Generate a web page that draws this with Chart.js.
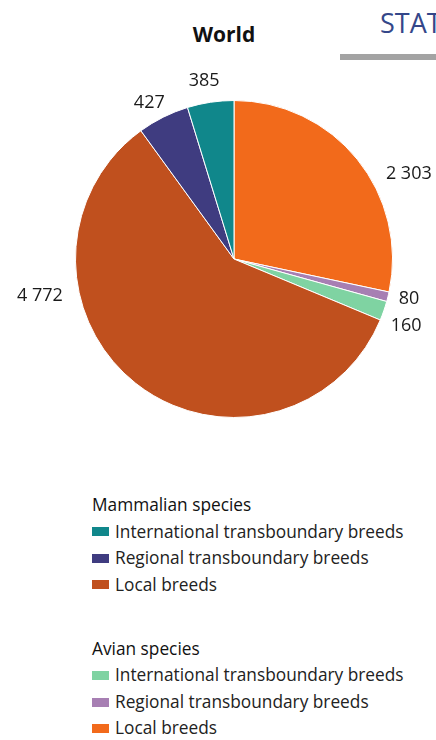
<!DOCTYPE html>
<html>
<head>
<meta charset="utf-8">
<script src="https://cdn.jsdelivr.net/npm/chart.js@4"></script>
<style>
  html, body { margin: 0; padding: 0; background: #fff; }
  body { width: 436px; height: 740px; position: relative; overflow: hidden; font-family: "Open Sans", sans-serif; }
  #header-word { position: absolute; left: 380px; top: 4px; font-size: 27px; color: #34478a; white-space: nowrap; }
  #header-rule { position: absolute; left: 340px; top: 54px; width: 96px; height: 6px; background: #a3a3a3; }
  #title { position: absolute; left: 0; width: 448px; top: 20px; text-align: center; font-weight: bold; font-size: 21px; color: #111; }
  #chart-box { position: absolute; left: 0; top: 0; width: 436px; height: 440px; }
  #legend { position: absolute; left: 92px; top: 492px; font-size: 17.3px; color: #222; }
  .leg-head { height: 26.5px; line-height: 26.5px; color: #111; white-space: nowrap; }
  .leg-row { height: 26.5px; line-height: 26.5px; display: flex; align-items: center; white-space: nowrap; }
  .leg-box { width: 17px; height: 9px; margin-right: 6px; flex: none; }
  .leg-gap { height: 37.75px; }
</style>
</head>
<body>
<div id="header-word">STAT</div>
<div id="header-rule"></div>
<div id="title">World</div>
<div id="chart-box"><canvas id="pieChart"></canvas></div>
<div id="legend"></div>

<script>
// Slices go clockwise from 12 o'clock, same order as the picture
const groups = ['Avian species', 'Avian species', 'Avian species', 'Mammalian species', 'Mammalian species', 'Mammalian species'];
const categories = ['Local breeds', 'Regional transboundary breeds', 'International transboundary breeds',
                    'Local breeds', 'Regional transboundary breeds', 'International transboundary breeds'];
const breedCounts = [2303, 80, 160, 4772, 427, 385];
const sliceColors = ['#f26a1b', '#a77fb3', '#7fd3a2', '#c0501e', '#3f3c80', '#10878b'];

// legend order as printed under the pie
const legendGroups = [
    { title: 'Mammalian species', items: [5, 4, 3] },
    { title: 'Avian species', items: [2, 1, 0] }
];

// where each value label sits: degrees off the slice middle, pixels beyond the rim
const labelShift = [13, -1, 2, 41, -2, -1];
const labelGap = [36, 21, 26, 39, 19, 22];

function formatCount(n) {
    return String(n).replace(/\B(?=(\d{3})+(?!\d))/g, ' ');
}

const outsideLabels = {
    id: 'outsideLabels',
    afterDatasetsDraw(chart) {
        const ctx = chart.ctx;
        const meta = chart.getDatasetMeta(0);
        ctx.save();
        ctx.font = '18px "Open Sans", sans-serif';
        ctx.fillStyle = '#1a1a1a';
        ctx.textAlign = 'center';
        ctx.textBaseline = 'middle';
        meta.data.forEach((arc, i) => {
            const p = arc.getProps(['x', 'y', 'startAngle', 'endAngle', 'outerRadius'], true);
            const mid = (p.startAngle + p.endAngle) / 2 + labelShift[i] * Math.PI / 180;
            const r = p.outerRadius + labelGap[i];
            ctx.fillText(formatCount(breedCounts[i]), p.x + Math.cos(mid) * r, p.y + Math.sin(mid) * r);
        });
        ctx.restore();
    }
};

const pieCanvas = document.getElementById('pieChart');
new Chart(pieCanvas, {
    type: 'pie',
    data: {
        labels: categories,
        datasets: [{
            data: breedCounts,
            backgroundColor: sliceColors,
            borderColor: '#ffffff',
            borderWidth: 1
        }]
    },
    options: {
        responsive: true,
        maintainAspectRatio: false,
        animation: false,
        layout: { padding: { left: 75, right: 43, top: 99, bottom: 21 } },
        plugins: {
            legend: { display: false },
            tooltip: { enabled: false },
            title: { display: false }
        }
    },
    plugins: [outsideLabels]
});

// Grouped legend
const legendEl = document.getElementById('legend');
legendGroups.forEach((g, gi) => {
    if (gi > 0) {
        const gap = document.createElement('div');
        gap.className = 'leg-gap';
        legendEl.appendChild(gap);
    }
    const head = document.createElement('div');
    head.className = 'leg-head';
    head.textContent = g.title;
    legendEl.appendChild(head);
    g.items.forEach(idx => {
        const row = document.createElement('div');
        row.className = 'leg-row';
        row.innerHTML = `<span class="leg-box" style="background:${sliceColors[idx]}"></span><span>${categories[idx]}</span>`;
        legendEl.appendChild(row);
    });
});
</script>
</body>
</html>
